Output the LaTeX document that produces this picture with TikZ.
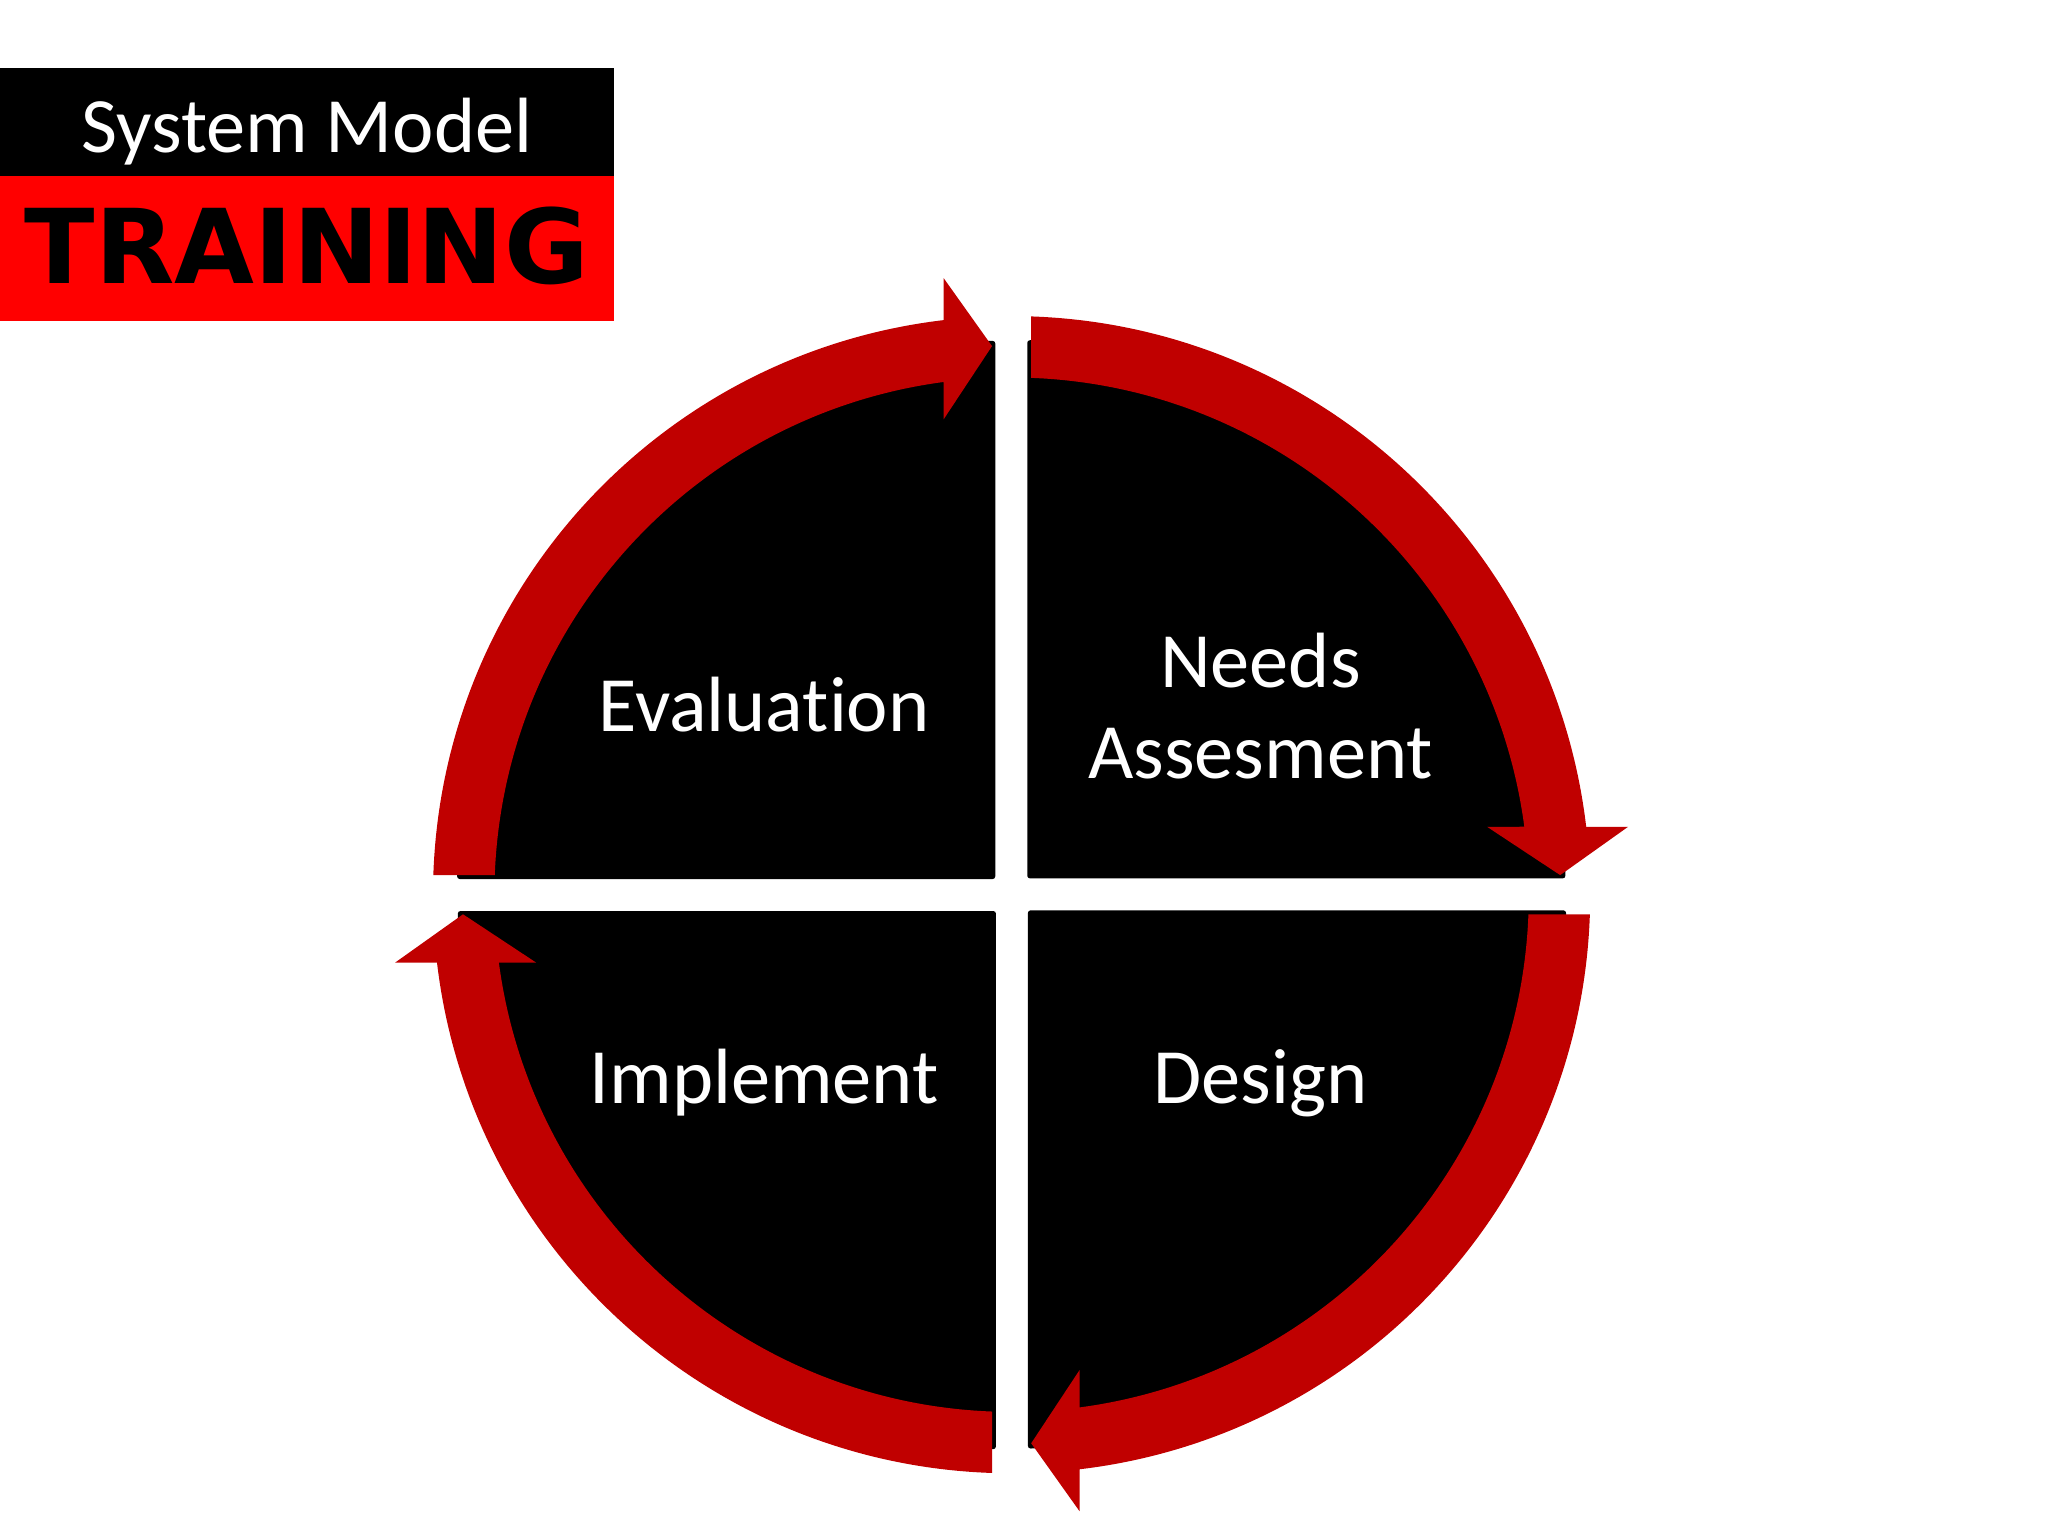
\documentclass[tikz,border=0pt]{standalone}
\usepackage{fontspec}
\setmainfont{Carlito}[Ligatures={NoCommon}]
\newfontfamily\headfont{DejaVu Sans}
\usetikzlibrary{positioning}
\definecolor{cycred}{RGB}{192,0,0}
\definecolor{bannerred}{RGB}{255,0,0}

\begin{document}
\begin{tikzpicture}[x=0.5pt,y=0.5pt,yscale=-1,xscale=1,
  quarter/.style={fill=black, rounded corners=1pt},
  cyclearrow/.style={fill=cycred},
  steplabel/.style={text=white, anchor=base, inner sep=0pt, font=\fontsize{30}{36}\selectfont}]
%set diagram left start at 0, and has height of 1176
\path (0,0) rectangle (1568,1176);

%Shape: Rectangle [banner]
\fill[black] (0,52) rectangle (470,135);
\fill[bannerred] (0,135) rectangle (470,246);

% Text Node
\node[anchor=base, inner sep=0pt, text=white, font=\fontsize{30}{36}\selectfont] (sysmodel) at (235,117) {System Model};
% Text Node
\node[anchor=base, inner sep=0pt, font=\headfont\bfseries\fontsize{39.5}{47}\selectfont] (training) at (235,217) {TRAINING};

%Shape: Quarter discs
\foreach \k in {0,1,2,3}
  \fill[quarter, shift={(774.5,685)}, rotate=90*\k] (-12.5,-12) -- (-424.5,-12) arc[start angle=180, end angle=270, radius=412] -- cycle;

%Shape: Curved arrows
\foreach \k in {0,1,2,3}
  \fill[cyclearrow, shift={(774.5,685)}, rotate=90*\k] (-178.06:443) arc[start angle=-178.06, end angle=-96.74, radius=443] -- (-52,-472) -- (-15,-420) -- (-52,-364) -- (-97.55:396) arc[start angle=-97.55, end angle=-177.83, radius=396] -- cycle;

% Text Node
\node[steplabel] (evaluation) at (585,560) {Evaluation};
% Text Node
\node[steplabel] (needs) at (965,526) {Needs};
% Text Node
\node[steplabel] (assesment) at (965,596) {Assesment};
% Text Node
\node[steplabel] (implement) at (585,845) {Implement};
% Text Node
\node[steplabel] (design) at (965,845) {Design};

\end{tikzpicture}
\end{document}
